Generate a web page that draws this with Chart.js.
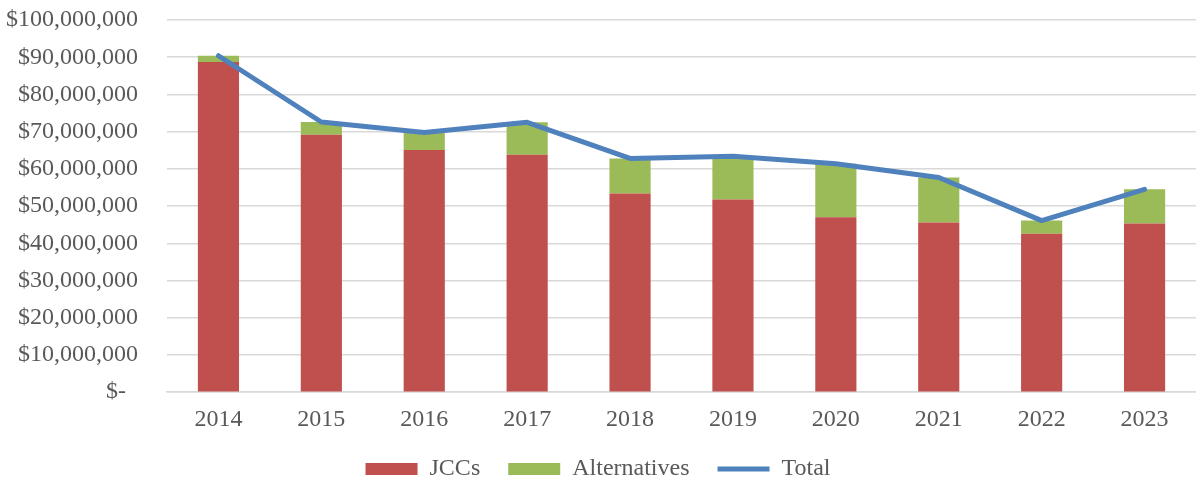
<!DOCTYPE html>
<html>
<head>
<meta charset="utf-8">
<script src="https://cdn.jsdelivr.net/npm/chart.js@4.4.1/dist/chart.umd.min.js"></script>
<style>
  html, body { margin: 0; padding: 0; background: #fff; }
</style>
</head>
<body>
<canvas id="grafico" width="1196" height="483"></canvas>
<script>
const anos = ['2014', '2015', '2016', '2017', '2018', '2019', '2020', '2021', '2022', '2023'];
const jccs = [88700000, 69200000, 65100000, 63800000, 53400000, 51800000, 47000000, 45600000, 42600000, 45300000];
const alternativas = [1700000, 3400000, 4700000, 8700000, 9400000, 11600000, 14400000, 12100000, 3500000, 9200000];
const totais = [90400000, 72600000, 69800000, 72500000, 62800000, 63400000, 61400000, 57700000, 46100000, 54500000];

const fonte = { family: "'Liberation Serif', 'Times New Roman', serif", size: 24 };
const cinza = '#595959';

function formatarDolar(v) {
  if (v === 0) return '$-  ';
  return '$' + v.toLocaleString('en-US');
}

// espaço extra entre itens da legenda, sem mexer no padding vertical
function gerarLegenda(chart) {
  const itens = Chart.defaults.plugins.legend.labels.generateLabels(chart);
  itens.forEach(it => { if (it.datasetIndex < 2) it.text += '\u00a0\u00a0\u00a0'; });
  return itens;
}

new Chart(document.getElementById('grafico'), {
  type: 'bar',
  data: {
    labels: anos,
    datasets: [
      { label: 'JCCs', data: jccs, backgroundColor: '#c0504d', stack: 'barras', order: 2, pointStyle: 'rect' },
      { label: 'Alternatives', data: alternativas, backgroundColor: '#9bbb59', stack: 'barras', order: 2, pointStyle: 'rect' },
      {
        type: 'line', label: 'Total', data: totais, stack: 'linha', order: 1,
        borderColor: '#4f81bd', backgroundColor: '#4f81bd', borderWidth: 5,
        borderCapStyle: 'round', borderJoinStyle: 'round',
        pointRadius: 0, pointStyle: 'line', tension: 0
      }
    ]
  },
  options: {
    responsive: false,
    animation: false,
    layout: { padding: { top: 20, right: 0, left: 0, bottom: -8 } },
    datasets: { bar: { barPercentage: 0.4, categoryPercentage: 1 } },
    plugins: {
      legend: {
        position: 'bottom',
        labels: {
          usePointStyle: true, pointStyleWidth: 52, boxHeight: 12,
          color: cinza, font: fonte, padding: 10,
          generateLabels: gerarLegenda,
          sort: (a, b) => a.datasetIndex - b.datasetIndex
        }
      },
      tooltip: { enabled: false }
    },
    scales: {
      x: {
        stacked: true,
        grid: { display: false, drawTicks: false },
        border: { display: true, color: '#d9d9d9', width: 1.5 },
        ticks: { color: cinza, font: fonte, padding: 13 }
      },
      y: {
        stacked: true,
        min: 0, max: 100000000,
        grid: { color: '#d9d9d9', lineWidth: 1.5, drawTicks: false },
        border: { display: false },
        ticks: { stepSize: 10000000, color: cinza, font: fonte, padding: 29, callback: formatarDolar },
        afterFit: s => { s.width = 167; s.paddingTop = 0; s.paddingBottom = 0; }
      }
    }
  }
});
</script>
</body>
</html>
